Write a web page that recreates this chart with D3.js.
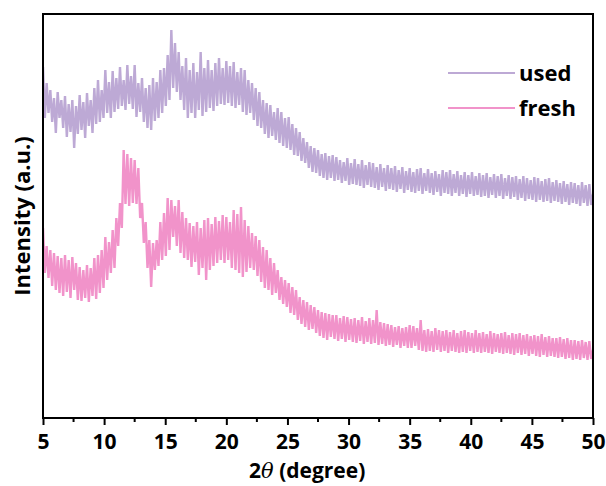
<!DOCTYPE html>
<html>
<head>
<meta charset="utf-8">
<script src="https://cdn.jsdelivr.net/npm/d3@7"></script>
<style>
  body { margin: 0; background: #fff; }
  text { font-family: "Open Sans", Lato, sans-serif; font-weight: bold; fill: #000; }
</style>
</head>
<body>
<div id="chart"></div>
<script>
// series names and colours
var seriesNames = ["used", "fresh"];
var seriesColors = ["#bda9d5", "#f193ca"];

// x ticks (2 theta, degree)
var xTicks = [5, 10, 15, 20, 25, 30, 35, 40, 45, 50];

// intensity (a.u.), read every 0.15 degree from 5 to 50 (one row = 1.5 degree)
var usedValues = [
  351, 300, 335, 305, 328, 296, 320, 285, 326, 300,
  318, 290, 322, 281, 314, 286, 318, 270, 312, 284,
  323, 288, 316, 280, 325, 292, 318, 285, 330, 294,
  338, 296, 328, 300, 348, 305, 336, 300, 347, 306,
  340, 309, 351, 312, 338, 308, 353, 314, 342, 309,
  353, 301, 335, 306, 340, 296, 330, 290, 333, 288,
  340, 297, 336, 300, 348, 305, 350, 312, 363, 318,
  388, 330, 375, 326, 366, 318, 352, 308, 360, 300,
  348, 305, 355, 300, 346, 308, 366, 302, 350, 306,
  358, 310, 348, 307, 355, 312, 360, 314, 350, 313,
  357, 315, 352, 312, 356, 310, 346, 313, 350, 306,
  348, 303, 338, 305, 335, 298, 330, 292, 326, 290,
  318, 284, 315, 280, 313, 282, 306, 278, 310, 275,
  306, 272, 300, 270, 301, 268, 294, 263, 290, 262,
  286, 257, 280, 255, 276, 250, 272, 246, 270, 245,
  268, 242, 264, 240, 265, 238, 262, 240, 263, 237,
  261, 238, 258, 235, 256, 237, 260, 233, 255, 234,
  259, 233, 254, 232, 258, 230, 253, 233, 256, 231,
  255, 230, 251, 228, 254, 231, 250, 227, 253, 229,
  250, 228, 252, 226, 248, 229, 251, 225, 247, 228,
  250, 226, 246, 225, 249, 227, 250, 224, 245, 227,
  249, 225, 245, 223, 247, 226, 244, 222, 248, 225,
  246, 224, 248, 222, 244, 225, 247, 222, 243, 224,
  246, 221, 243, 224, 246, 222, 242, 223, 245, 221,
  243, 222, 245, 220, 241, 223, 244, 220, 242, 222,
  244, 219, 240, 222, 243, 219, 241, 221, 242, 218,
  239, 220, 242, 217, 240, 219, 238, 218, 241, 216,
  240, 218, 237, 216, 239, 217, 240, 215, 236, 217,
  238, 216, 235, 214, 237, 216, 234, 213, 236, 215,
  235, 214, 233, 212, 236, 215, 233, 212, 234, 213,
  224
];

var freshValues = [
  190, 145, 172, 140, 168, 132, 165, 128, 162, 125,
  160, 122, 163, 126, 158, 120, 161, 128, 155, 118,
  151, 117, 148, 120, 153, 116, 150, 122, 160, 119,
  163, 125, 168, 130, 181, 138, 176, 145, 188, 150,
  200, 172, 215, 190, 268, 214, 264, 212, 260, 215,
  258, 214, 250, 200, 215, 175, 196, 150, 178, 131,
  175, 148, 178, 152, 196, 158, 205, 162, 220, 168,
  218, 181, 212, 172, 218, 165, 206, 160, 200, 158,
  195, 151, 192, 156, 196, 143, 190, 150, 198, 138,
  200, 148, 194, 152, 201, 155, 197, 158, 203, 155,
  201, 158, 196, 150, 208, 148, 204, 145, 211, 141,
  198, 146, 192, 150, 185, 148, 182, 142, 178, 136,
  171, 130, 168, 128, 160, 123, 155, 125, 148, 118,
  141, 114, 138, 111, 135, 105, 131, 103, 128, 98,
  121, 94, 118, 91, 116, 88, 113, 89, 111, 85,
  108, 82, 106, 80, 105, 78, 104, 81, 103, 79,
  103, 77, 100, 79, 102, 76, 101, 78, 99, 76,
  100, 75, 98, 77, 101, 74, 97, 76, 100, 74,
  98, 75, 108, 73, 96, 74, 95, 72, 94, 73,
  93, 71, 91, 73, 92, 70, 90, 72, 91, 70,
  93, 70, 92, 72, 90, 68, 98, 67, 88, 66,
  89, 67, 87, 66, 90, 68, 88, 66, 87, 67,
  88, 65, 86, 67, 88, 66, 85, 65, 87, 66,
  88, 65, 86, 67, 85, 65, 88, 66, 85, 65,
  86, 66, 84, 65, 87, 64, 85, 66, 84, 65,
  85, 64, 86, 65, 83, 64, 85, 63, 84, 65,
  85, 63, 83, 64, 84, 62, 82, 64, 83, 62,
  82, 61, 84, 63, 81, 61, 82, 62, 80, 61,
  80, 60, 81, 61, 79, 59, 80, 60, 78, 58,
  78, 59, 77, 58, 78, 60, 76, 58, 77, 59,
  68
];

// 2 theta sampling grid, 0.15 degree step
var twoTheta = usedValues.map(function(d, i) { return 5 + i * 0.15; });

//set up the chart
var svgWidth = 606;
var svgHeight = 486;
var margin = { top: 14, right: 13, bottom: 68, left: 43 };
var width = svgWidth - margin.left - margin.right;
var height = svgHeight - margin.top - margin.bottom;

var svg = d3.select("#chart")
  .append("svg")
  .attr("width", svgWidth)
  .attr("height", svgHeight);

var chart = svg.append("g")
  .attr("transform", "translate(" + margin.left + "," + margin.top + ")");

// scales
var xScale = d3.scaleLinear().domain([5, 50]).range([0, width]);
var yScale = d3.scaleLinear().domain([0, 404]).range([height, 0]);

var line = d3.line()
  .x(function(d) { return xScale(d.x); })
  .y(function(d) { return yScale(d.y); });

var allSeries = [usedValues, freshValues];

chart.append("defs").append("clipPath")
  .attr("id", "clip")
  .append("rect")
  .attr("width", width)
  .attr("height", height);

allSeries.forEach(function(values, s) {
  var pts = values.map(function(v, i) { return { x: twoTheta[i], y: v }; });
  chart.append("path")
    .datum(pts)
    .attr("clip-path", "url(#clip)")
    .attr("fill", "none")
    .attr("stroke", seriesColors[s])
    .attr("stroke-width", 2.4)
    .attr("stroke-linejoin", "bevel")
    .attr("d", line);
});

// bottom axis with major ticks
var bottomAxis = d3.axisBottom(xScale)
  .tickValues(xTicks)
  .tickSize(7)
  .tickSizeOuter(0)
  .tickFormat(d3.format("d"));

var xAxis = chart.append("g")
  .attr("transform", "translate(0," + height + ")")
  .call(bottomAxis);
xAxis.select(".domain").remove();
xAxis.selectAll("line").attr("stroke", "#000").attr("stroke-width", 2);
xAxis.selectAll("text")
  .attr("y", 31)
  .attr("dy", 0)
  .style("font-size", "21px");

// minor ticks
var minorTicks = xTicks.slice(0, -1).map(function(t) { return t + 2.5; });
chart.append("g")
  .selectAll("line")
  .data(minorTicks)
  .enter()
  .append("line")
  .attr("x1", function(d) { return xScale(d); })
  .attr("x2", function(d) { return xScale(d); })
  .attr("y1", height)
  .attr("y2", height + 4)
  .attr("stroke", "#000")
  .attr("stroke-width", 2);

// frame
chart.append("rect")
  .attr("width", width)
  .attr("height", height)
  .attr("fill", "none")
  .attr("stroke", "#000")
  .attr("stroke-width", 2);

// x label
var xLabel = svg.append("text")
  .attr("x", 249)
  .attr("y", 478)
  .style("font-size", "21px");
xLabel.append("tspan").text("2");
xLabel.append("tspan").style("font-style", "italic").style("font-weight", "normal")
  .style("font-family", "'DejaVu Serif', serif").text("θ");
xLabel.append("tspan").text(" (degree)");

// y label
svg.append("text")
  .attr("transform", "translate(30," + (margin.top + height / 2) + ") rotate(-90)")
  .attr("text-anchor", "middle")
  .style("font-size", "22px")
  .text("Intensity (a.u.)");

// legend
var legend = chart.append("g")
  .attr("transform", "translate(405,59)");
seriesNames.forEach(function(name, i) {
  legend.append("line")
    .attr("x1", 0)
    .attr("x2", 67)
    .attr("y1", i * 35)
    .attr("y2", i * 35)
    .attr("stroke", seriesColors[i])
    .attr("stroke-width", 2);
  legend.append("text")
    .attr("x", 71)
    .attr("y", i * 35 + 8)
    .style("font-size", "22px")
    .text(name);
});
</script>
</body>
</html>
